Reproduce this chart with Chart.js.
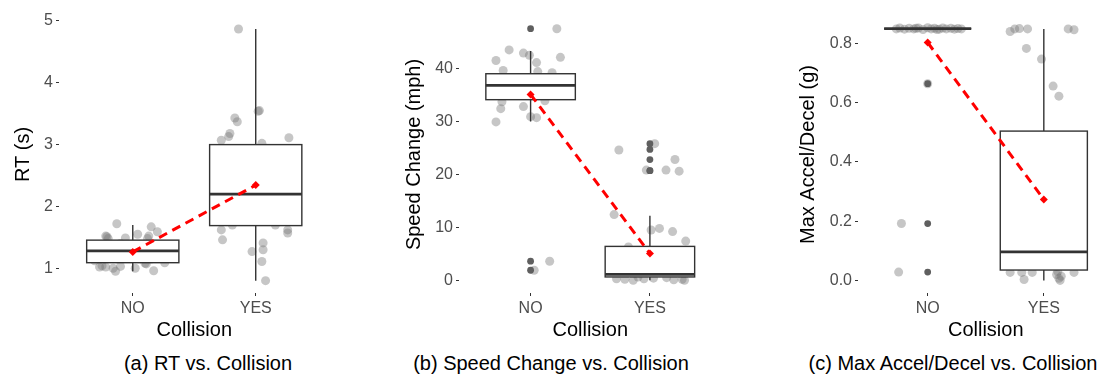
<!DOCTYPE html>
<html>
<head>
<meta charset="utf-8">
<script src="https://cdn.jsdelivr.net/npm/chart.js@4.4.1/dist/chart.umd.min.js"></script>
<style>
  html, body { margin: 0; padding: 0; background: #fff; overflow: hidden; }
  body { width: 1102px; height: 378px; position: relative; font-family: "Liberation Sans", Arial, sans-serif; }
  canvas { position: absolute; top: 0; }
  .caption { position: absolute; top: 351px; font-size: 20px; line-height: 24px; color: #000; transform: translateX(-50%); white-space: nowrap; }
</style>
</head>
<body>
<canvas id="rt_chart" width="334" height="345" style="left:0px"></canvas>
<canvas id="speed_chart" width="356" height="345" style="left:370px"></canvas>
<canvas id="accel_chart" width="378" height="345" style="left:740px"></canvas>
<div class="caption" style="left:208px">(a) RT vs. Collision</div>
<div class="caption" style="left:551px">(b) Speed Change vs. Collision</div>
<div class="caption" style="left:953px">(c) Max Accel/Decel vs. Collision</div>
<script>
// groups on the x axis
const categories = ["NO", "YES"];

// RT (s): box stats are [lower whisker, q1, median, q3, upper whisker]
const rtTicks = [1, 2, 3, 4, 5];
const rtStats = [[0.95, 1.09, 1.28, 1.455, 1.70], [0.80, 1.69, 2.20, 3.00, 4.87]];
const rtMeans = [1.265, 2.345];
const rtOutliers = [[], []];
// jitter points: [offset from group centre, value]
const rtJitterNo = [[-0.13, 1.72], [-0.21, 1.51], [-0.2, 1.48], [-0.22, 1.52], [-0.06, 1.49], [0.04, 1.55], [0.15, 1.67],
    [0.2, 1.59], [0.12, 1.48], [0.13, 1.52], [-0.27, 1.02], [-0.22, 1.02], [-0.16, 1.0], [-0.14, 0.95], [-0.1, 1.03],
    [0.02, 1.0], [0.1, 1.08], [0.17, 0.96], [0.26, 1.09], [-0.31, 1.12], [-0.25, 1.04], [0.11, 1.07],
    [-0.2, 1.2], [0.05, 1.3], [0.2, 1.35], [-0.1, 1.4], [0.15, 1.15], [-0.25, 1.3]];
const rtJitterYes = [[-0.14, 4.87], [0.02, 3.54], [0.03, 3.55], [-0.17, 3.43], [-0.15, 3.37], [-0.21, 3.18], [-0.22, 3.13],
    [-0.28, 3.07], [0.27, 3.11], [0.05, 3.02], [-0.28, 1.62], [-0.27, 1.46], [-0.19, 1.70], [0.16, 1.70], [0.26, 1.62],
    [0.26, 1.57], [-0.03, 1.27], [0.06, 1.41], [0.06, 1.30], [0.05, 1.11], [0.08, 0.80],
    [-0.1, 2.5], [0.15, 2.0], [0.2, 2.7], [-0.2, 2.2], [0.0, 1.9], [0.1, 2.4]];

// Speed Change (mph)
const speedTicks = [0, 10, 20, 30, 40];
const speedStats = [[30.0, 34.1, 36.8, 39.0, 43.3], [0, 0.63, 1.1, 6.4, 12.2]];
const speedMeans = [35.1, 5.05];
const speedOutliers = [[47.5, 3.6, 1.9], [25.8, 24.7, 22.8, 20.7, 20.7]];
const speedJitterNo = [[0.22, 47.5], [-0.29, 41.5], [-0.18, 43.5], [-0.06, 42.9], [-0.01, 42.5], [0.05, 41.1], [0.25, 42.1],
    [-0.23, 39.6], [0.06, 39.4], [0.18, 39.2], [-0.24, 33.7], [-0.25, 32.4], [-0.06, 32.8], [-0.29, 29.9], [0.0, 30.9],
    [0.05, 30.7], [0.12, 33.9], [0.16, 3.6], [0.03, 1.9],
    [-0.15, 35.5], [0.1, 37.5], [-0.2, 36.2], [0.2, 35.0], [0.0, 38.2]];
const speedJitterYes = [[-0.26, 24.6], [0.04, 25.8], [0.135, 20.8], [0.21, 22.8], [0.245, 20.6], [-0.03, 20.8],
    [-0.3, 12.4], [0.01, 9.5], [0.08, 9.8], [0.19, 9.2], [0.3, 7.4], [-0.18, 6.3],
    [-0.28, 0.3], [-0.21, 0.2], [-0.14, 0.0], [-0.05, 0.3], [0.03, 0.4], [0.14, 0.5], [0.27, 0.2], [0.29, 0.0],
    [-0.1, 0.6], [0.2, 0.1], [-0.2, 3.0], [0.1, 2.0], [0.0, 4.5], [-0.1, 1.5]];

// Max Accel/Decel (g)
const accelTicks = [0, 0.2, 0.4, 0.6, 0.8];
const accelStats = [[0.85, 0.85, 0.85, 0.85, 0.85], [0, 0.035, 0.096, 0.504, 0.849]];
const accelMeans = [0.803, 0.273];
const accelOutliers = [[0.664, 0.192, 0.028], []];
const accelJitterNo = [[-0.27, 0.849], [-0.24, 0.852], [-0.2, 0.848], [-0.16, 0.851], [-0.12, 0.849], [-0.08, 0.852],
    [-0.04, 0.847], [0.0, 0.853], [0.03, 0.849], [0.06, 0.851], [0.1, 0.848], [0.13, 0.852], [0.16, 0.849],
    [0.2, 0.851], [0.23, 0.848], [0.26, 0.85], [0.29, 0.849], [-0.1, 0.851], [0.08, 0.847],
    [-0.226, 0.192], [-0.25, 0.028], [0.0, 0.664]];
const accelJitterYes = [[-0.29, 0.84], [-0.25, 0.849], [-0.21, 0.85], [-0.14, 0.849], [0.21, 0.849], [0.26, 0.846],
    [-0.15, 0.783], [-0.02, 0.747], [0.08, 0.656], [0.13, 0.622],
    [-0.29, 0.027], [-0.19, 0.027], [-0.17, 0.003], [-0.1, 0.027], [0.11, 0.02], [0.13, 0.007], [0.15, 0.014],
    [0.26, 0.027], [0.12, 0.03], [0.14, 0.0], [-0.2, 0.1], [0.1, 0.3], [0.0, 0.2], [0.2, 0.45], [-0.1, 0.05]];

const FONT = "'Liberation Sans', Arial, sans-serif";
const INK = "#333333";

// draws the boxes between the jitter layer and the outlier / mean layers
function boxPlugin(stats) {
    return {
        id: "boxes",
        beforeDatasetDraw(chart, args) {
            if (args.index !== 1) return;
            const ctx = chart.ctx;
            const xs = chart.scales.x, ys = chart.scales.y;
            const half = xs.getPixelForValue(1.375) - xs.getPixelForValue(1);
            stats.forEach(function(s, i) {
                const cx = xs.getPixelForValue(i + 1);
                const lo = ys.getPixelForValue(s[0]);
                const q1 = ys.getPixelForValue(s[1]);
                const md = ys.getPixelForValue(s[2]);
                const q3 = ys.getPixelForValue(s[3]);
                const hi = ys.getPixelForValue(s[4]);
                ctx.save();
                ctx.strokeStyle = INK;
                ctx.lineWidth = 1.4;
                ctx.beginPath();
                ctx.moveTo(cx, hi); ctx.lineTo(cx, q3);
                ctx.moveTo(cx, q1); ctx.lineTo(cx, lo);
                ctx.stroke();
                ctx.fillStyle = "#ffffff";
                ctx.fillRect(cx - half, q3, half * 2, q1 - q3);
                ctx.strokeRect(cx - half, q3, half * 2, q1 - q3);
                ctx.lineWidth = 2.8;
                ctx.beginPath();
                ctx.moveTo(cx - half, md); ctx.lineTo(cx + half, md);
                ctx.stroke();
                ctx.restore();
            });
        }
    };
}

function makeChart(id, cfg) {
    const jitter = [];
    [cfg.jitterNo, cfg.jitterYes].forEach(function(list, i) {
        list.forEach(function(p) { jitter.push({x: i + 1 + p[0], y: p[1]}); });
    });
    const outliers = [];
    cfg.outliers.forEach(function(list, i) {
        list.forEach(function(v) { outliers.push({x: i + 1, y: v}); });
    });
    const means = cfg.means.map(function(m, i) { return {x: i + 1, y: m}; });

    return new Chart(document.getElementById(id), {
        type: "scatter",
        data: {
            datasets: [{
                label: "mean",
                data: means,
                showLine: true,
                borderColor: "#ff0000",
                borderWidth: 3,
                borderDash: [9, 6],
                pointStyle: "rectRot",
                pointRadius: 4,
                pointBackgroundColor: "#ff0000",
                pointBorderWidth: 0
            }, {
                label: "outliers",
                data: outliers,
                pointRadius: 3.4,
                pointBackgroundColor: "#5f5f5f",
                pointBorderWidth: 0
            }, {
                label: "points",
                data: jitter,
                pointRadius: 4.5,
                pointBackgroundColor: "rgba(120, 120, 120, 0.42)",
                pointBorderWidth: 0
            }]
        },
        options: {
            responsive: false,
            animation: false,
            layout: { padding: { top: 16, right: 0, bottom: 0, left: 0 } },
            plugins: {
                legend: { display: false },
                tooltip: { enabled: false }
            },
            scales: {
                x: {
                    type: "linear",
                    min: 0.4,
                    max: 2.6,
                    afterBuildTicks: function(s) { s.ticks = categories.map(function(c, i) { return {value: i + 1}; }); },
                    afterFit: function(s) { s.height = 52; },
                    ticks: {
                        callback: function(v, i) { return categories[i]; },
                        color: "#4d4d4d",
                        font: { family: FONT, size: 16 },
                        padding: 3,
                        maxRotation: 0,
                        autoSkip: false
                    },
                    grid: { drawOnChartArea: false, drawTicks: true, tickLength: 3, color: INK, lineWidth: 1 },
                    border: { display: false },
                    title: { display: true, text: "Collision", color: "#000", font: { family: FONT, size: 20 }, padding: { top: 0, bottom: 3 } }
                },
                y: {
                    min: cfg.min,
                    max: cfg.max,
                    afterBuildTicks: function(s) { s.ticks = cfg.ticks.map(function(t) { return {value: t}; }); },
                    afterFit: function(s) { s.width = cfg.axisWidth; },
                    ticks: {
                        callback: function(v, i) { return cfg.labels[i]; },
                        color: "#4d4d4d",
                        font: { family: FONT, size: 16 },
                        padding: 3
                    },
                    grid: { drawOnChartArea: false, drawTicks: true, tickLength: 3, color: INK, lineWidth: 1 },
                    border: { display: false },
                    title: { display: true, text: cfg.title, color: "#000", font: { family: FONT, size: 20 }, padding: { top: cfg.titlePad, bottom: 0 } }
                }
            }
        },
        plugins: [boxPlugin(cfg.stats)]
    });
}

makeChart("rt_chart", {
    title: "RT (s)", min: 0.6, max: 5.08, ticks: rtTicks, labels: rtTicks.map(String),
    axisWidth: 59, titlePad: 11,
    stats: rtStats, means: rtMeans, outliers: rtOutliers, jitterNo: rtJitterNo, jitterYes: rtJitterYes
});
makeChart("speed_chart", {
    title: "Speed Change (mph)", min: -2.4, max: 49.9, ticks: speedTicks, labels: speedTicks.map(String),
    axisWidth: 89, titlePad: 32,
    stats: speedStats, means: speedMeans, outliers: speedOutliers, jitterNo: speedJitterNo, jitterYes: speedJitterYes
});
makeChart("accel_chart", {
    title: "Max Accel/Decel (g)", min: -0.0425, max: 0.8925, ticks: accelTicks, labels: accelTicks.map(function(t) { return t.toFixed(1); }),
    axisWidth: 118, titlePad: 56,
    stats: accelStats, means: accelMeans, outliers: accelOutliers, jitterNo: accelJitterNo, jitterYes: accelJitterYes
});
</script>
</body>
</html>
